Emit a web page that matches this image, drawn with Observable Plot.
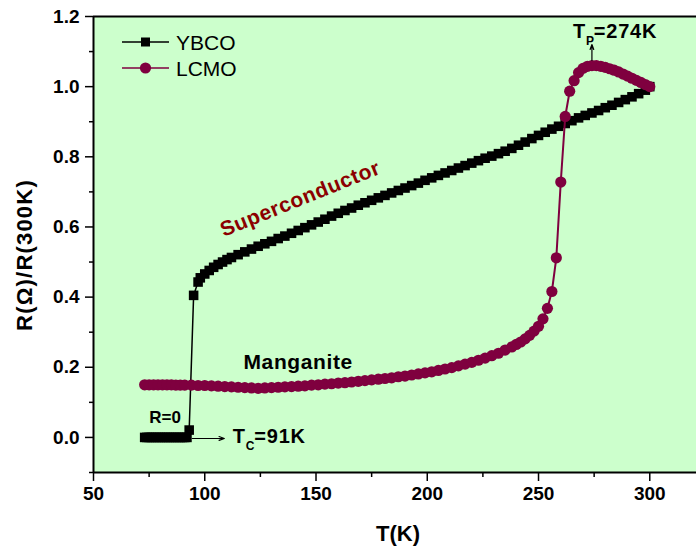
<!DOCTYPE html>
<html>
<head>
<meta charset="utf-8">
<script src="https://cdn.jsdelivr.net/npm/d3@7"></script>
<script src="https://cdn.jsdelivr.net/npm/@observablehq/plot@0.6"></script>
<style>
  html, body { margin: 0; padding: 0; background: #ffffff; }
  #chart { width: 696px; height: 550px; position: relative; }
  svg { font-family: "Liberation Sans", Arial, sans-serif; }
</style>
</head>
<body>
<div id="chart"></div>
<script>
// ---------- data ----------
const ybcoT = [73,74,75,76,77,78,79,80,81,82,83,84,85,86,87,88,89,90,91,92,93,95,97,
  98,100,102,104,106,108,110,112,115,118,121,124,127,130,133,136,139,142,145,148,151,154,157,160,
  163,166,169,172,175,178,181,184,187,190,193,196,199,202,205,208,211,214,217,220,223,226,229,232,
  235,238,241,244,247,250,253,256,259,262,265,268,271,274,277,280,283,286,289,292,295,298,300];
const ybcoR = [0,0,0,0,0,0,0,0,0,0,0,0,0,0,0,0,0,0,0,0,0.021,0.405,0.443,
  0.455,0.466,0.476,0.485,0.493,0.500,0.507,0.513,0.521,0.529,0.537,0.545,0.552,0.559,0.567,0.574,0.582,0.590,0.598,0.606,0.614,0.622,0.631,0.639,
  0.647,0.654,0.662,0.669,0.676,0.683,0.690,0.697,0.704,0.711,0.718,0.725,0.733,0.740,0.747,0.754,0.761,0.768,0.775,0.782,0.789,0.796,0.802,0.809,
  0.816,0.824,0.833,0.842,0.852,0.861,0.870,0.879,0.887,0.895,0.903,0.911,0.918,0.925,0.932,0.940,0.947,0.955,0.963,0.971,0.980,0.990,1.000];

const lcmoT = [73,75,77,79,81,83,85,87,89,91,94,97,100,103,106,109,112,115,118,121,124,127,130,133,136,139,142,145,148,151,154,157,160,
  163,166,169,172,175,178,181,184,187,190,193,196,199,202,205,208,211,214,217,220,223,226,229,232,235,238,240,242,244,246,248,
  250,252,254,256,258,260,262,264,266,268,270,272,274,276,278,280,282,284,286,288,290,292,294,296,298,300];
const lcmoR = [0.150,0.150,0.150,0.150,0.150,0.150,0.150,0.149,0.149,0.149,0.149,0.148,0.148,0.147,0.146,0.145,0.144,0.143,0.142,0.141,0.140,0.141,0.142,0.143,0.144,0.145,0.146,0.147,0.149,0.150,0.152,0.153,0.155,
  0.156,0.158,0.160,0.162,0.164,0.166,0.168,0.170,0.173,0.175,0.178,0.181,0.184,0.187,0.191,0.195,0.199,0.204,0.209,0.214,0.220,0.226,0.233,0.240,0.249,0.258,0.265,0.272,0.281,0.291,0.303,
  0.317,0.338,0.368,0.416,0.512,0.728,0.915,0.987,1.017,1.040,1.052,1.058,1.060,1.060,1.058,1.055,1.051,1.047,1.042,1.036,1.030,1.024,1.018,1.012,1.006,1.000];

const seriesNames = ["YBCO", "LCMO"];
const xMajorTicks = [50, 100, 150, 200, 250, 300];
const xMinorTicks = [75, 125, 175, 225, 275];
const yMajorTicks = [0.0, 0.2, 0.4, 0.6, 0.8, 1.0, 1.2];
const yMinorTicks = [-0.1, 0.1, 0.3, 0.5, 0.7, 0.9, 1.1];
const xTitle = "T(K)";
const yTitle = "R(Ω)/R(300K)";
const labelSuper = "Superconductor";
const labelMang = "Manganite";
const labelR0 = "R=0";
const tcValue = "=91K";
const tpValue = "=274K";
const tcTemp = 91;
const tpTemp = 274;

const ybco = ybcoT.map((t, i) => ({T: t, R: ybcoR[i]}));
const lcmo = lcmoT.map((t, i) => ({T: t, R: lcmoR[i]}));

const cYB = "#000000";
const cLC = "#7f003f";
const cSuper = "#8b0000";

const plot = Plot.plot({
  width: 696,
  height: 550,
  marginLeft: 93,
  marginRight: 0,
  marginTop: 16,
  marginBottom: 78,
  style: {background: "transparent", fontFamily: "Liberation Sans, Arial, sans-serif"},
  x: {domain: [50, 321]},
  y: {domain: [-0.1, 1.2]},
  marks: [
    Plot.frame({fill: "#ccffcc", stroke: null}),
    Plot.ruleY([1.2], {stroke: "#000", strokeWidth: 2}),
    Plot.ruleX([50], {stroke: "#000", strokeWidth: 2}),
    Plot.ruleY([-0.1], {stroke: "#000", strokeWidth: 2}),
    Plot.axisX({ticks: xMajorTicks, tickSize: 9, tickPadding: 5, tickFormat: d => d, label: null,
      fontSize: 19, fontWeight: "bold", strokeWidth: 1.5, stroke: "#000", fill: "#000"}),
    Plot.axisX({ticks: xMinorTicks, tickSize: 5, tickFormat: null, text: null, label: null, strokeWidth: 1.5}),
    Plot.axisY({ticks: yMajorTicks, tickSize: 8, tickPadding: 6, tickFormat: d3.format(".1f"), label: null,
      fontSize: 19, fontWeight: "bold", strokeWidth: 1.5}),
    Plot.axisY({ticks: yMinorTicks, tickSize: 4, text: null, label: null, strokeWidth: 1.5}),
    // YBCO
    Plot.line(ybco, {x: "T", y: "R", stroke: cYB, strokeWidth: 1.5}),
    Plot.dot(ybco, {x: "T", y: "R", symbol: "square", r: 5.4, fill: cYB}),
    // LCMO
    Plot.line(lcmo, {x: "T", y: "R", stroke: cLC, strokeWidth: 2}),
    Plot.dot(lcmo, {x: "T", y: "R", r: 5.6, fill: cLC}),
    // arrows
    Plot.arrow([{x1: 94.4, y1: -0.003, x2: 108.8, y2: -0.003}], {x1: "x1", y1: "y1", x2: "x2", y2: "y2", stroke: "#000", strokeWidth: 1.2, headLength: 7, headAngle: 40}),
    Plot.arrow([{x1: tpTemp, y1: 1.075, x2: tpTemp, y2: 1.12}], {x1: "x1", y1: "y1", x2: "x2", y2: "y2", stroke: "#000", strokeWidth: 1.2, headLength: 7, headAngle: 40})
  ]
});

document.getElementById("chart").appendChild(plot);

const svg = d3.select(plot);
const xs = plot.scale("x");
const ys = plot.scale("y");
const X = v => xs.apply(v);
const Y = v => ys.apply(v);

// Annotations
svg.append("text")
  .attr("transform", `translate(${X(143)},${Y(0.681)}) rotate(-22)`)
  .attr("text-anchor", "middle").attr("dy", "0.36em")
  .attr("font-size", 21).attr("font-weight", "bold").attr("fill", cSuper)
  .attr("letter-spacing", 0.6)
  .text(labelSuper);

svg.append("text")
  .attr("x", X(142.2)).attr("y", Y(0.215)).attr("dy", "0.36em")
  .attr("text-anchor", "middle")
  .attr("font-size", 21).attr("font-weight", "bold").attr("fill", "#000")
  .attr("letter-spacing", 0.6)
  .text(labelMang);

svg.append("text")
  .attr("x", X(82.4)).attr("y", Y(0.057)).attr("dy", "0.36em")
  .attr("text-anchor", "middle")
  .attr("font-size", 17).attr("font-weight", "bold").attr("fill", "#000")
  .text(labelR0);

function subLabel(tx, v, sub, rest) {
  const t = svg.append("text")
    .attr("x", X(tx)).attr("y", Y(v)).attr("dy", "0.36em")
    .attr("text-anchor", "start")
    .attr("font-size", 20).attr("font-weight", "bold").attr("fill", "#000")
    .attr("letter-spacing", 0.8);
  t.append("tspan").text("T");
  t.append("tspan").attr("font-size", 12).attr("dy", 7).attr("dx", 0).text(sub);
  t.append("tspan").attr("dy", -7).attr("dx", -1).text(rest);
}
subLabel(112.8, 0.003, "C", tcValue);
subLabel(265.7, 1.159, "P", tpValue);

// axis titles
svg.append("text")
  .attr("x", 398).attr("y", 533).attr("dy", "0.36em")
  .attr("text-anchor", "middle")
  .attr("font-size", 22).attr("font-weight", "bold").attr("fill", "#000")
  .text(xTitle);
svg.append("text")
  .attr("transform", `translate(24,255) rotate(-90)`)
  .attr("text-anchor", "middle").attr("dy", "0.36em")
  .attr("font-size", 22).attr("font-weight", "bold").attr("fill", "#000")
  .attr("letter-spacing", 1.2)
  .text(yTitle);

// legend
const legend = svg.append("g");
const legItems = [
  {name: seriesNames[0], color: cYB, sym: "square", y: 42},
  {name: seriesNames[1], color: cLC, sym: "circle", y: 68}
];
legItems.forEach(it => {
  legend.append("line").attr("x1", 122).attr("x2", 169).attr("y1", it.y).attr("y2", it.y)
    .attr("stroke", it.color).attr("stroke-width", 1.5);
  if (it.sym === "square") {
    legend.append("rect").attr("x", 145.5 - 4.5).attr("y", it.y - 4.5).attr("width", 9).attr("height", 9).attr("fill", it.color);
  } else {
    legend.append("circle").attr("cx", 145.5).attr("cy", it.y).attr("r", 5.6).attr("fill", it.color);
  }
  legend.append("text").attr("x", 176).attr("y", it.y).attr("dy", "0.36em")
    .attr("text-anchor", "start")
    .attr("font-size", 21).attr("fill", "#000").text(it.name);
});
</script>
</body>
</html>
